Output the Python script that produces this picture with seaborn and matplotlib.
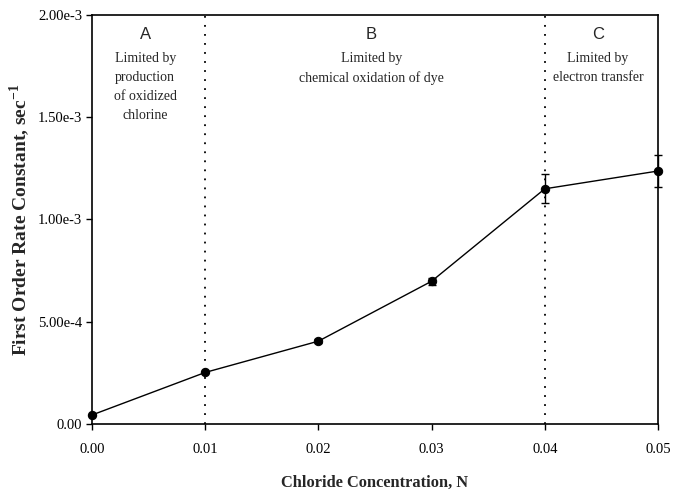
import matplotlib
matplotlib.use("Agg")
import matplotlib.pyplot as plt
import seaborn as sns
import pandas as pd
import numpy as np

chloride = [0.00, 0.01, 0.02, 0.03, 0.04, 0.05]
rate = [4.4e-5, 2.52e-4, 4.05e-4, 6.98e-4, 1.15e-3, 1.237e-3]
rate_err = [0.0, 0.0, 0.01e-3, 0.018e-3, 0.07e-3, 0.08e-3]
region_letters = ["A", "B", "C"]
region_x = [0.0047, 0.0247, 0.0447]
region_text = ["Limited by\nproduction\nof oxidized\nchlorine",
               "Limited by\nchemical oxidation of dye",
               "Limited by\nelectron transfer"]
boundaries = [0.01, 0.04]
yticks = [0.0, 5e-4, 1e-3, 1.5e-3, 2e-3]
ytick_labels = ["0.00", "5.00e-4", "1.00e-3", "1.50e-3", "2.00e-3"]
xticks = [0.00, 0.01, 0.02, 0.03, 0.04, 0.05]
xtick_labels = ["0.00", "0.01", "0.02", "0.03", "0.04", "0.05"]

sns.set_theme(style="ticks")
plt.rcParams["font.family"] = ["Liberation Serif", "DejaVu Serif"]

fig = plt.figure(figsize=(6.83, 4.93), dpi=100)
ax = fig.add_axes([0.1347, 0.14, 0.8287, 0.8296])

df = pd.DataFrame({"x": chloride, "y": rate})
ax.errorbar(chloride, rate, yerr=rate_err, fmt="none", ecolor="black",
            elinewidth=1, capsize=3, capthick=1, clip_on=False, zorder=3)
sns.lineplot(data=df, x="x", y="y", ax=ax, color="black", linewidth=1,
             marker="o", markersize=6, markeredgecolor="black",
             markerfacecolor="black", clip_on=False, zorder=4)

for b in boundaries:
    ax.axvline(b, color="black", linestyle=(0, (1, 4)), linewidth=1.3, zorder=1)

for lx, letter, txt in zip(region_x, region_letters, region_text):
    ax.text(lx, 1.905e-3, letter, ha="center", va="center", fontsize=12,
            family=["Liberation Sans", "DejaVu Sans"])
    ax.text(lx, 1.82e-3, txt, ha="center", va="top", fontsize=10,
            linespacing=1.62)

ax.set_xlim(0, 0.05)
ax.set_ylim(0, 2e-3)
ax.set_xticks(xticks)
ax.set_xticklabels(xtick_labels, fontsize=10.5)
ax.set_yticks(yticks)
ax.set_yticklabels(ytick_labels, fontsize=10.5)
ax.tick_params(direction="out", length=4, width=1, colors="black")
ax.tick_params(axis="x", pad=10)
ax.tick_params(axis="y", pad=3)
ax.set_xlabel("Chloride Concentration, N", fontsize=11.8, fontweight="bold")
ax.xaxis.set_label_coords(0.5, -0.125)
ax.set_ylabel("First Order Rate Constant, sec$^{\\mathregular{-1}}$", fontsize=14,
              fontweight="bold")
ax.yaxis.set_label_coords(-0.105, 0.5)
for s in ax.spines.values():
    s.set_color("black")
    s.set_linewidth(1.2)
    s.set_visible(True)

fig.savefig("out.png", dpi=100)
